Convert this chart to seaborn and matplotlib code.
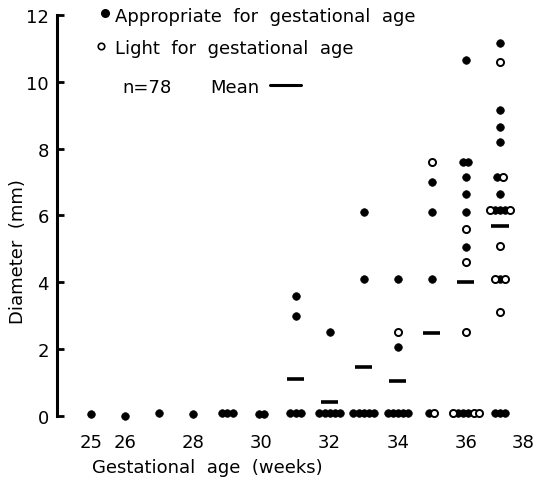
import numpy as np
import pandas as pd
import matplotlib
matplotlib.use('Agg')
import matplotlib.pyplot as plt
import seaborn as sns

# One entry per infant; within a row of equal values the order is left to right
# A = appropriate for gestational age, L = light for gestational age
weeks = [25, 26, 27, 28, 29, 29, 29, 30, 30,
         31, 31, 31, 31, 31,
         32, 32, 32, 32, 32, 32,
         33, 33, 33, 33, 33, 33, 33,
         34, 34, 34, 34, 34, 34, 34, 34,
         35, 35, 35, 35, 35, 35,
         36, 36, 36, 36, 36, 36, 36, 36, 36, 36, 36, 36, 36, 36, 36, 36,
         37, 37, 37, 37, 37, 37, 37, 37, 37, 37, 37, 37, 37, 37, 37, 37,
         37, 37, 37, 37, 37]
diameters = [0.05, 0.0, 0.1, 0.05, 0.1, 0.1, 0.1, 0.05, 0.05,
             0.1, 0.1, 0.1, 3.0, 3.6,
             0.1, 0.1, 0.1, 0.1, 0.1, 2.5,
             0.1, 0.1, 0.1, 0.1, 0.1, 4.1, 6.1,
             0.1, 0.1, 0.1, 0.1, 0.1, 2.05, 2.5, 4.1,
             0.1, 0.1, 4.1, 6.1, 7.0, 7.6,
             0.1, 0.1, 0.1, 0.1, 0.1, 0.1, 2.5, 4.6, 5.05, 5.6, 6.1, 6.65,
             7.15, 7.6, 7.6, 10.65,
             0.1, 0.1, 0.1, 3.1, 4.1, 4.1, 4.1, 5.1, 6.15, 6.15, 6.15, 6.15,
             6.15, 6.65, 7.15, 7.15, 8.2, 8.65, 9.15, 10.6, 11.15]
groups = ['A', 'A', 'A', 'A', 'A', 'A', 'A', 'A', 'A',
          'A', 'A', 'A', 'A', 'A',
          'A', 'A', 'A', 'A', 'A', 'A',
          'A', 'A', 'A', 'A', 'A', 'A', 'A',
          'A', 'A', 'A', 'A', 'A', 'A', 'L', 'A',
          'A', 'L', 'A', 'A', 'A', 'L',
          'L', 'A', 'A', 'A', 'L', 'L', 'L', 'L', 'A', 'L', 'A', 'A',
          'A', 'A', 'A', 'A',
          'A', 'A', 'A', 'L', 'L', 'A', 'L', 'L', 'L', 'A', 'A', 'A',
          'L', 'A', 'A', 'L', 'A', 'A', 'A', 'L', 'A']

# Group means drawn as short bars
mean_weeks = [31, 32, 33, 34, 35, 36, 37]
mean_values = [1.1, 0.43, 1.46, 1.06, 2.48, 4.02, 5.7]

xtick_values = [25, 26, 28, 30, 32, 34, 36, 38]
ytick_values = [0, 2, 4, 6, 8, 10, 12]

df = pd.DataFrame({'week': weeks, 'diameter': diameters, 'group': groups})

# Spread tied points side by side around their week
step = 0.15
df['slot'] = df.groupby(['week', 'diameter']).cumcount()
df['count'] = df.groupby(['week', 'diameter'])['week'].transform('size')
df['x'] = df['week'] + (df['slot'] - (df['count'] - 1) / 2) * step

sns.set_style('white')
plt.rcParams['font.family'] = ['DejaVu Sans']
plt.rcParams['text.color'] = 'black'
plt.rcParams['xtick.color'] = 'black'
plt.rcParams['ytick.color'] = 'black'

W, H = 539, 481
fig = plt.figure(figsize=(W / 100, H / 100), dpi=100)
ax = fig.add_axes([57 / W, 54 / H, 480.5 / W, 411 / H])

sns.scatterplot(data=df[df['group'] == 'A'], x='x', y='diameter', ax=ax,
                color='black', edgecolor='black', s=30, linewidth=0.5, zorder=3)
sns.scatterplot(data=df[df['group'] == 'L'], x='x', y='diameter', ax=ax,
                color='white', edgecolor='black', s=26, linewidth=1.4, zorder=4)

mw = np.array(mean_weeks)
ax.hlines(mean_values, mw - 0.25, mw + 0.25, colors='black', linewidth=2.6, zorder=2)

ax.set_xlim(24, 38.1)
ax.set_ylim(-0.3, 12)
ax.set_xticks(xtick_values)
ax.set_yticks(ytick_values)
ax.set_xlabel('')
ax.set_ylabel('')

for side in ['top', 'right', 'bottom']:
    ax.spines[side].set_visible(False)
ax.spines['left'].set_bounds(0, 12)
ax.spines['left'].set_linewidth(2.2)
ax.spines['left'].set_color('black')

ax.tick_params(axis='y', direction='in', length=5, width=2, labelsize=13,
               pad=6, colors='black', left=True)
ax.tick_params(axis='x', length=0, labelsize=13, pad=5, colors='black')
# last label sits flush with the right edge
ax.get_xticklabels()[-1].set_horizontalalignment('right')

def px(x, y):
    return x / W, 1 - y / H

# Key in the top left corner
fig.text(*px(115, 22), 'Appropriate  for  gestational  age', fontsize=13,
         ha='left', va='baseline')
fig.text(*px(115, 54), 'Light  for  gestational  age', fontsize=13,
         ha='left', va='baseline')
ax.scatter(*px(105, 14), s=30, color='black', transform=fig.transFigure,
           clip_on=False)
ax.scatter(*px(101, 47), s=22, facecolor='white', edgecolor='black',
           linewidth=1.2, transform=fig.transFigure, clip_on=False)
fig.text(*px(122, 93), 'n=78', fontsize=13, ha='left', va='baseline')
fig.text(*px(210, 93), 'Mean', fontsize=13, ha='left', va='baseline')
ax.plot([270 / W, 301 / W], [1 - 86 / H, 1 - 86 / H], color='black',
        linewidth=2.2, transform=fig.transFigure, clip_on=False)

fig.text(*px(207, 473), 'Gestational  age  (weeks)', fontsize=13,
         ha='center', va='baseline')
fig.text(*px(18, 252), 'Diameter  (mm)', fontsize=13, rotation=90,
         ha='center', va='center')

fig.savefig('out.png', dpi=100)
